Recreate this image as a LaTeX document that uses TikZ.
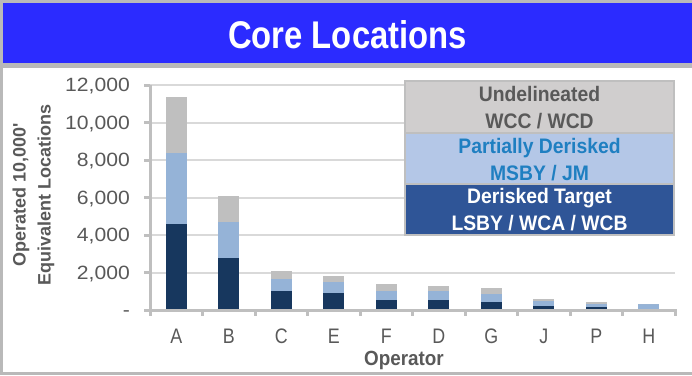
\documentclass[tikz,border=0pt]{standalone}
\usepackage{fontspec}
\setmainfont{Liberation Sans}
\newfontfamily\condfont[FakeStretch=0.85]{Liberation Sans}
\newfontfamily\widefont[FakeStretch=1.1]{Liberation Sans}
\newfontfamily\condbold[FakeStretch=0.92]{Liberation Sans Bold}
\newfontfamily\titlefont[FakeStretch=0.85]{Liberation Sans Bold}
\definecolor{framegray}{HTML}{B9B9B9}
\definecolor{titleblue}{HTML}{2B2BFF}
\definecolor{gridgray}{HTML}{D9D9D9}
\definecolor{axisgray}{HTML}{BFBFBF}
\definecolor{bardark}{HTML}{17375E}
\definecolor{barlight}{HTML}{95B3D7}
\definecolor{bargray}{HTML}{BFBFBF}
\definecolor{leggray}{HTML}{D0CECE}
\definecolor{leglight}{HTML}{B4C7E7}
\definecolor{legdark}{HTML}{2F5597}
\definecolor{textgray}{HTML}{595959}
\definecolor{legblue}{HTML}{1F7FC1}
\begin{document}
\begin{tikzpicture}[x=1pt,y=-1pt,
  gridline/.style={draw=gridgray,line width=2pt},
  axisline/.style={draw=axisgray,line width=3pt},
  ticklab/.style={inner sep=0pt,text=textgray,font=\widefont\fontsize{19.2}{22}\selectfont},
  catlab/.style={inner sep=0pt,text=textgray,font=\condfont\fontsize{21}{24}\selectfont},
  axtitle/.style={inner sep=0pt,text=textgray,font=\bfseries\fontsize{18}{21}\selectfont},
  xtitle/.style={inner sep=0pt,text=textgray,font=\condbold\fontsize{20.5}{24}\selectfont},
  legtext/.style={inner sep=0pt,font=\condbold\fontsize{21}{24}\selectfont},
  legborder/.style={draw=axisgray,line width=2pt},
  titletext/.style={inner sep=0pt,text=white,font=\titlefont\fontsize{38.6}{44}\selectfont}]
\useasboundingbox (0,0) rectangle (692,375);
% frame
\fill[framegray] (0,0) rectangle (692,375);
\fill[titleblue] (3,3) rectangle (692,63);
\fill[white] (3,68) rectangle (692,372);
\node[titletext,anchor=base] (title) at (347.5,48.3) {Core Locations};
% gridlines and y labels
\foreach \k/\lab in {0/{-},1/{2,000},2/{4,000},3/{6,000},4/{8,000},5/{10,000},6/{12,000}} {
  \pgfmathsetmacro\yy{310-37.5*\k}
  \ifnum\k>0 \draw[gridline] (150,\yy) -- (675,\yy); \fi
  \draw[axisline] (144,\yy) -- (150,\yy);
  \node[ticklab,anchor=base east] (yl\k) at (130,\yy+6.8) {\lab};
}
% bars
\foreach \i/\d/\l/\g in {0/224/153/96.7, 1/257.7/221.7/196, 2/290.7/279/270.7, 3/293.3/281.7/275.7, 4/300/290.7/284.3, 5/300/290.7/286, 6/301.7/293.7/288.3, 7/306/300.7/299, 8/306.7/304.3/302.3, 9/310/304.3/304.3} {
  \pgfmathsetmacro\cx{176.25+52.5*\i}
  \fill[bardark] (\cx-10.5,310) rectangle (\cx+10.5,\d);
  \fill[barlight] (\cx-10.5,\d) rectangle (\cx+10.5,\l);
  \fill[bargray] (\cx-10.5,\l) rectangle (\cx+10.5,\g);
}
% axes
\draw[axisline] (150,85) -- (150,316);
\draw[axisline] (144,310) -- (676.5,310);
\foreach \i in {0,...,10} {
  \draw[axisline] ({150+52.5*\i},310) -- ({150+52.5*\i},316);
}
% category labels
\foreach \i/\c in {0/A,1/B,2/C,3/E,4/F,5/D,6/G,7/J,8/P,9/H} {
  \node[catlab,anchor=base] (cat\i) at ({176.25+52.5*\i},343) {\c};
}
\node[xtitle,anchor=base] (xt) at (404,365) {Operator};
% y axis title
\node[axtitle,anchor=base,rotate=90] (yt1) at (25.5,195) {Operated 10,000\textquotesingle};
\node[axtitle,anchor=base,rotate=90] (yt2) at (50.5,195) {Equivalent Locations};
% legend
\draw[legborder,fill=leggray] (405,81) rectangle (674,133);
\draw[legborder,fill=leglight] (405,133) rectangle (674,184);
\draw[legborder,fill=legdark] (405,184) rectangle (674,235);
\node[legtext,text=textgray,anchor=base] (l1a) at (539.5,101.7) {Undelineated};
\node[legtext,text=textgray,anchor=base] (l1b) at (539.5,128.3) {WCC / WCD};
\node[legtext,text=legblue,anchor=base] (l2a) at (539.5,153.3) {Partially Derisked};
\node[legtext,text=legblue,anchor=base] (l2b) at (539.5,180) {MSBY / JM};
\node[legtext,text=white,anchor=base] (l3a) at (539.5,203.3) {Derisked Target};
\node[legtext,text=white,anchor=base] (l3b) at (539.5,230) {LSBY / WCA / WCB};
\end{tikzpicture}
\end{document}
